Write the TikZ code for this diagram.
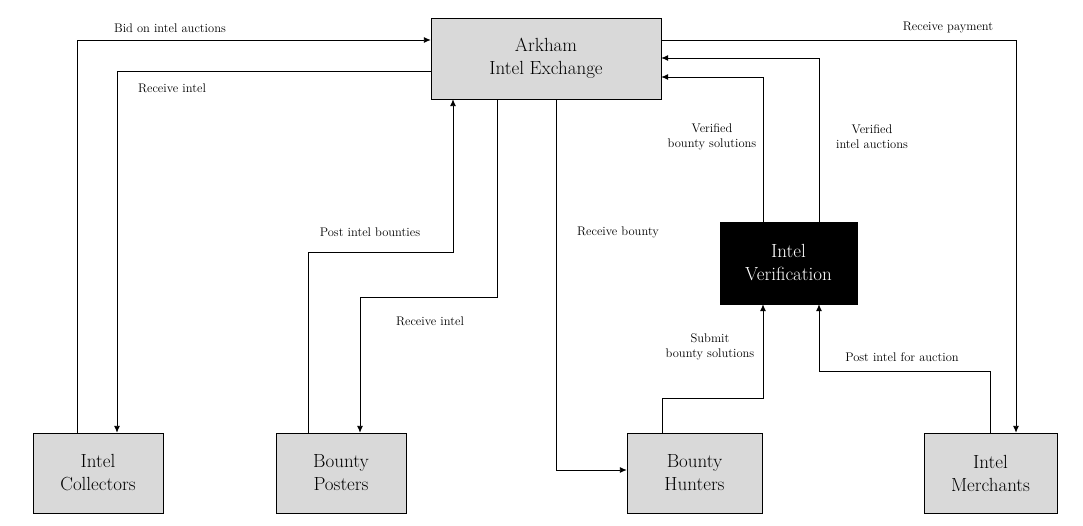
\documentclass[tikz,border=0pt]{standalone}
\usetikzlibrary{arrows.meta}
\begin{document}
\begin{tikzpicture}[x=1pt,y=-1pt,
  box/.style={draw,fill=gray!30,minimum width=130pt,minimum height=80pt,align=center,font=\fontsize{19}{23}\selectfont},
  lbl/.style={align=center,font=\fontsize{12.5}{15}\selectfont},
  arr/.style={-{Latex[length=7pt,width=6pt]},line width=0.9pt}]
\useasboundingbox (0,0) rectangle (1083,526);
\node[box,minimum width=230pt,minimum height=81pt] (ax) at (546,58.5) {Arkham\\Intel Exchange};
\node[box] (ic) at (98,473) {Intel\\Collectors};
\node[box] (bp) at (341,473) {Bounty\\Posters};
\node[box,minimum width=135pt] (bh) at (694.5,473) {Bounty\\Hunters};
\node[box,minimum width=133pt] (im) at (990.5,473) {Intel\\Merchants};
\node[box,fill=black,text=white,minimum width=137pt,minimum height=82pt] (iv) at (788.5,263) {Intel\\Verification};

\coordinate (c1) at (77,40);
\draw[arr] (ic.north -| c1) -- (c1) -- (ax.west |- c1);
\node[lbl] (l1) at (170,28) {Bid on intel auctions};
\coordinate (c2) at (117,71);
\draw[arr] (ax.west |- c2) -- (c2) -- (ic.north -| c2);
\node[lbl] (l2) at (172,88) {Receive intel};
\coordinate (c3a) at (308,252); \coordinate (c3b) at (453,252);
\draw[arr] (bp.north -| c3a) -- (c3a) -- (c3b) -- (ax.south -| c3b);
\node[lbl] (l3) at (370,232) {Post intel bounties};
\coordinate (c4a) at (497,297); \coordinate (c4b) at (360,297);
\draw[arr] (ax.south -| c4a) -- (c4a) -- (c4b) -- (bp.north -| c4b);
\node[lbl] (l4) at (430,321) {Receive intel};
\coordinate (c5) at (556,470);
\draw[arr] (ax.south -| c5) -- (c5) -- (bh.west |- c5);
\node[lbl] (l5) at (618,232) {Receive bounty};
\coordinate (c6a) at (662,398); \coordinate (c6b) at (763,398);
\draw[arr] (bh.north -| c6a) -- (c6a) -- (c6b) -- (iv.south -| c6b);
\node[lbl] (l6) at (710,347) {Submit\\bounty solutions};
\coordinate (c7a) at (990,371); \coordinate (c7b) at (819,371);
\draw[arr] (im.north -| c7a) -- (c7a) -- (c7b) -- (iv.south -| c7b);
\node[lbl] (l7) at (902,357) {Post intel for auction};
\coordinate (c8) at (763,77);
\draw[arr] (iv.north -| c8) -- (c8) -- (ax.east |- c8);
\node[lbl] (l8) at (712,137) {Verified\\bounty solutions};
\coordinate (c9) at (819,58);
\draw[arr] (iv.north -| c9) -- (c9) -- (ax.east |- c9);
\node[lbl] (l9) at (872,137) {Verified\\intel auctions};
\coordinate (c10) at (1016,40);
\draw[arr] (ax.east |- c10) -- (c10) -- (im.north -| c10);
\node[lbl] (l10) at (948,28) {Receive payment};
\end{tikzpicture}
\end{document}
